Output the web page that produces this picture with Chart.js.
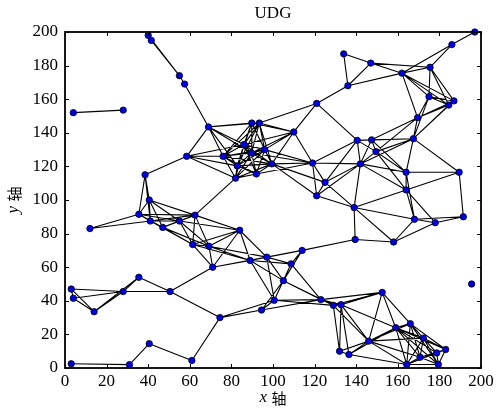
<!DOCTYPE html>
<html>
<head>
<meta charset="utf-8">
<script src="https://cdn.jsdelivr.net/npm/chart.js@4.4.1/dist/chart.umd.min.js"></script>
<style>
  html, body { margin: 0; padding: 0; background: #fff; }
  #wrap { width: 497px; height: 412px; }
</style>
</head>
<body>
<div id="wrap"><canvas id="udgChart"></canvas></div>
<script>
// node positions
const nodeX = [
  4, 28, 40, 41.5, 55, 57.5, 69,
  58.5, 76, 82, 82.8, 89.7, 92, 99.4, 89.8, 93.4, 110, 86, 96,
  121, 134, 136, 147, 162, 175.5, 186, 197, 175, 184.5, 187, 169.5, 167.5,
  140.5, 147.4, 149.5, 142, 119, 125, 121, 139, 164, 189.5, 164, 168, 178, 191.5, 158, 139.5,
  38.5, 40.5, 35.5, 41, 47, 55, 62.5, 12,
  61.4, 69.2, 84, 71, 89, 97, 108.7, 105, 100.6, 114, 94.5, 74.5,
  3, 4, 14, 28, 35.5, 50.5, 3, 31, 40.5, 61,
  123, 129, 132.7, 132, 136.5, 146, 152.5, 159, 166, 172.3, 183, 178.7, 170.7, 164.3, 179.5, 195.5
];
const nodeY = [
  152, 153.5, 198, 195, 174, 169, 143.5,
  126, 126, 113, 120.3, 128, 115.5, 121.5, 145.8, 145.8, 140.5, 133, 130,
  157.5, 187, 168, 181.5, 175.5, 179, 192.5, 200, 161.5, 156.5, 159, 149, 136.5,
  135.5, 135.8, 128.8, 121.5, 122, 110.5, 102.5, 95.5, 116.5, 116.5, 106, 88.5, 86.5, 90, 75, 76.5,
  115, 100, 91.5, 87.5, 83.7, 87.5, 91, 83,
  73.5, 72.5, 82, 60, 64, 66, 62, 52, 40.3, 70, 34.5, 30,
  47, 41.5, 33.5, 45.5, 54, 45.5, 2.5, 2, 14.5, 4.5,
  40.7, 37.3, 37.7, 10, 8, 16, 45, 24, 26.4, 17.8, 11, 9, 6.4, 2.1, 2.1, 50
];
const RADIUS = 30;   // unit disk radius
const tickValues = [0, 20, 40, 60, 80, 100, 120, 140, 160, 180, 200];

const nodes = nodeX.map((x, i) => ({ x: x, y: nodeY[i] }));

// unit disk graph: link every pair closer than the radius
const edgePoints = [];
for (let i = 0; i < nodes.length; i++) {
  for (let j = i + 1; j < nodes.length; j++) {
    const dx = nodes[i].x - nodes[j].x, dy = nodes[i].y - nodes[j].y;
    if (Math.sqrt(dx * dx + dy * dy) <= RADIUS) {
      edgePoints.push(nodes[i], nodes[j], { x: null, y: null });
    }
  }
}

const serif = '"Liberation Serif", "Times New Roman", serif';

// inward ticks, frame and axis titles like the original figure
const framePlugin = {
  id: 'frame',
  afterDatasetsDraw(chart) {
    const { ctx, chartArea: a, scales: { x, y } } = chart;
    ctx.save();
    ctx.strokeStyle = '#000';
    ctx.lineWidth = 1;
    ctx.beginPath();
    tickValues.forEach(v => {
      const px = Math.round(x.getPixelForValue(v)) + 0.5;
      ctx.moveTo(px, a.bottom); ctx.lineTo(px, a.bottom - 4);
      ctx.moveTo(px, a.top); ctx.lineTo(px, a.top + 4);
      const py = Math.round(y.getPixelForValue(v)) + 0.5;
      ctx.moveTo(a.left, py); ctx.lineTo(a.left + 4, py);
      ctx.moveTo(a.right, py); ctx.lineTo(a.right - 4, py);
    });
    ctx.stroke();
    ctx.lineWidth = 1.8;
    ctx.strokeRect(a.left, a.top, a.right - a.left, a.bottom - a.top);

    ctx.fillStyle = '#000';
    ctx.textBaseline = 'middle';
    // title
    ctx.font = '17px ' + serif;
    ctx.textAlign = 'center';
    ctx.fillText('UDG', (a.left + a.right) / 2, 14);

    // x axis title: italic x + 轴
    ctx.textAlign = 'left';
    ctx.font = '15px "Noto Sans CJK SC"';
    const wc = ctx.measureText('轴').width;
    ctx.font = 'italic 17px ' + serif;
    const wx = ctx.measureText('x ').width;
    let sx = (a.left + a.right) / 2 - (wx + wc) / 2;
    ctx.fillText('x', sx, 398);
    ctx.font = '15px "Noto Sans CJK SC"';
    ctx.fillText('轴', sx + wx, 398);

    // y axis title, rotated
    ctx.translate(14, (a.top + a.bottom) / 2);
    ctx.rotate(-Math.PI / 2);
    ctx.font = 'italic 17px ' + serif;
    const wy = ctx.measureText('y ').width;
    sx = -(wy + wc) / 2;
    ctx.fillText('y', sx, 0);
    ctx.font = '15px "Noto Sans CJK SC"';
    ctx.fillText('轴', sx + wy, 0);
    ctx.restore();
  }
};

new Chart(document.getElementById('udgChart'), {
  type: 'scatter',
  data: {
    datasets: [
      {
        label: 'nodes',
        data: nodes,
        pointRadius: 3.2,
        pointHoverRadius: 3.2,
        backgroundColor: '#0000e6',
        borderColor: '#000',
        borderWidth: 0.8,
        clip: false
      },
      {
        label: 'edges',
        type: 'line',
        data: edgePoints,
        showLine: true,
        spanGaps: false,
        pointRadius: 0,
        borderColor: '#000',
        borderWidth: 1.1,
        clip: false
      }
    ]
  },
  options: {
    responsive: true,
    maintainAspectRatio: false,
    animation: false,
    events: [],
    layout: { padding: { top: 32, right: 16, left: 0, bottom: 0 } },
    plugins: { legend: { display: false }, tooltip: { enabled: false }, title: { display: false } },
    scales: {
      x: {
        type: 'linear', min: 0, max: 200,
        afterFit: s => { s.height = 44; },
        afterBuildTicks: s => { s.ticks = tickValues.map(v => ({ value: v })); },
        grid: { display: false, drawTicks: false },
        border: { display: false },
        ticks: { color: '#000', padding: 3, maxRotation: 0, font: { family: serif, size: 17 } }
      },
      y: {
        type: 'linear', min: 0, max: 200,
        afterFit: s => { s.width = 65; },
        afterBuildTicks: s => { s.ticks = tickValues.map(v => ({ value: v })); },
        grid: { display: false, drawTicks: false },
        border: { display: false },
        ticks: { color: '#000', padding: 7, font: { family: serif, size: 17 } }
      }
    }
  },
  plugins: [framePlugin]
});
</script>
</body>
</html>
